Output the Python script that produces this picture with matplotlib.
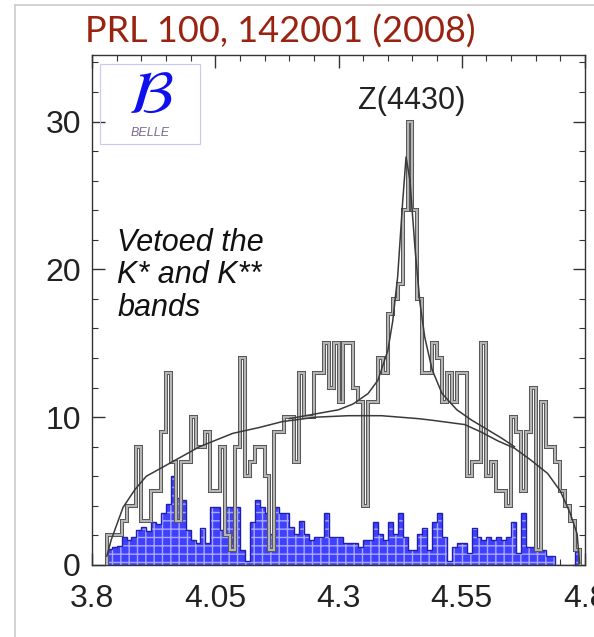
import numpy as np
import matplotlib
matplotlib.use("Agg")
import matplotlib.pyplot as plt
from matplotlib.patches import Rectangle
from matplotlib.lines import Line2D
from matplotlib.ticker import MultipleLocator, FixedLocator

# psi' pi+ mass histogram, 10 MeV bins starting at 3.83 GeV
bin_start = 3.83
bin_width = 0.01
signal_counts = [2, 2, 2, 3, 4, 4, 8, 3, 3, 5, 5, 9, 13, 7, 3, 7, 7, 10, 8, 8,
                 9, 5, 5, 8, 2, 1, 8, 14, 6, 7, 8, 8, 6, 1, 9, 9, 10, 10, 7, 13,
                 10, 10, 13, 13, 15, 12, 15, 11, 15, 15, 12, 11, 4, 11, 11, 14, 13, 17, 18, 19,
                 24, 30, 24, 18, 13, 13, 15, 14, 11, 13, 11, 13, 13, 6, 7, 7, 15, 6, 7, 5,
                 5, 4, 10, 9, 5, 9, 12, 1, 11, 8, 8, 7, 5, 4, 3, 1]
sideband = [1.1, 1.2, 1.3, 1.9, 1.7, 1.9, 2.4, 2.6, 2.3, 2.9, 2.8, 3.5, 4.1, 6.0, 4.5, 4.4, 2.4, 1.7, 1.5, 2.5,
            1.5, 3.9, 3.9, 2.4, 3.9, 3.9, 3.9, 1.0, 0.3, 2.9, 4.4, 3.9, 3.5, 2.1, 3.9, 3.5, 3.5, 2.6, 2.1, 3.0,
            2.1, 1.7, 1.9, 1.9, 3.5, 1.9, 1.9, 1.9, 1.5, 1.5, 1.5, 1.2, 1.7, 1.7, 2.9, 2.1, 1.7, 2.9, 2.1, 3.5,
            1.9, 1.0, 1.0, 2.1, 2.5, 1.0, 2.9, 3.5, 1.9, 0.3, 1.2, 1.5, 1.5, 0.8, 2.5, 1.9, 1.7, 1.9, 1.7, 1.9,
            1.7, 1.9, 2.9, 0.8, 3.5, 1.2, 1.2, 1.1, 1.0, 0.6, 0.6, 0, 0, 0, 0, 1.0]

# fit curves
bkg_x = [3.830, 3.839, 3.863, 3.887, 3.910, 3.964, 4.018, 4.085, 4.139, 4.186, 4.254, 4.320, 4.387,
         4.462, 4.488, 4.556, 4.589, 4.623, 4.657, 4.690, 4.724, 4.750, 4.770, 4.784, 4.789]
bkg_y = [0.6, 1.7, 3.9, 5.1, 6.0, 7.0, 8.0, 8.9, 9.3, 9.7, 10.0, 10.1, 10.1,
         9.9, 9.8, 9.5, 9.0, 8.4, 7.9, 7.1, 6.2, 5.0, 3.5, 2.1, 0.1]
fit_x = [4.200, 4.250, 4.300, 4.330, 4.360, 4.380, 4.400, 4.410, 4.420, 4.430, 4.437, 4.445,
         4.455, 4.465, 4.475, 4.490, 4.510, 4.540, 4.570, 4.600, 4.630, 4.657]
fit_y = [9.9, 10.2, 10.5, 10.9, 11.6, 12.5, 14.5, 16.5, 19.5, 24.5, 27.6, 26.0,
         21.5, 17.8, 15.4, 13.2, 11.6, 10.5, 9.8, 9.2, 8.6, 8.0]

x_ticks = [3.8, 4.05, 4.3, 4.55, 4.8]
x_tick_labels = ["3.8", "4.05", "4.3", "4.55", "4.8"]
y_ticks = [0, 10, 20, 30]

edges = np.round(bin_start + bin_width * np.arange(len(signal_counts) + 1), 3)

fig = plt.figure(figsize=(5.94, 6.37), dpi=100)
ax = fig.add_axes([92 / 594, 1 - 565 / 637, (585 - 92) / 594, (565 - 55) / 637])

# sideband (blue, gridded)
ax.stairs(sideband, edges, fill=True, facecolor="#4040ff", edgecolor="#a8a8ff",
          hatch="++", linewidth=0, zorder=2)
ax.stairs(sideband, edges, color="#2020b0", linewidth=1.0, zorder=3)

# signal region (gray, outlined)
ax.stairs(signal_counts, edges, color="#555555", linewidth=2.9, zorder=4)
ax.stairs(signal_counts, edges, color="#b4b4b4", linewidth=1.5, zorder=5)

ax.plot(bkg_x, bkg_y, color="#3a3a3a", linewidth=1.1, zorder=6)
ax.plot(fit_x, fit_y, color="#3a3a3a", linewidth=1.1, zorder=6)

ax.set_xlim(3.8, 4.8)
ax.set_ylim(0, 34.5)
ax.xaxis.set_major_locator(FixedLocator(x_ticks))
ax.set_xticklabels(x_tick_labels)
ax.xaxis.set_minor_locator(MultipleLocator(0.05))
ax.yaxis.set_major_locator(FixedLocator(y_ticks))
ax.yaxis.set_minor_locator(MultipleLocator(2))
ax.tick_params(which="both", direction="in", top=True, right=True, color="#333333")
ax.tick_params(which="major", length=9, width=1)
ax.tick_params(which="minor", length=4.5, width=0.8)
ax.tick_params(axis="x", which="major", pad=14)
ax.tick_params(axis="y", which="major", pad=8)
for lab in ax.get_xticklabels() + ax.get_yticklabels():
    lab.set_fontfamily("Liberation Sans")
    lab.set_fontsize(23)
    lab.set_color("#222222")
for sp in ax.spines.values():
    sp.set_linewidth(1.0)
    sp.set_color("#333333")

# annotations
ax.text(4.449, 31.4, "Z(4430)", ha="center", va="center", fontsize=22,
        family="Liberation Sans", color="#222222")
for yv, line in zip([21.8, 19.6, 17.4], ["Vetoed the", "K* and K**", "bands"]):
    ax.text(3.851, yv, line, ha="left", va="center", fontsize=22, style="italic",
            family="Liberation Sans", color="#111111")

# Belle logo
ax.add_patch(Rectangle((3.816, 28.5), 0.203, 5.4, fill=False, edgecolor="#c8c8f0",
                       linewidth=0.8, zorder=7))
ax.text(3.918, 31.7, r"$\mathcal{B}$", ha="center", va="center", fontsize=44,
        color="#1010ee", zorder=8)
ax.text(3.918, 29.2, "BELLE", ha="center", va="center", fontsize=9, style="italic",
        family="Liberation Sans", color="#7a6a90", zorder=8)

fig.text(0.471, 0.950, "PRL 100, 142001 (2008)", ha="center", va="center",
         fontsize=26, family="Lato", color="#992211")

# slide frame
fig.add_artist(Line2D([15 / 594, 15 / 594], [0, 1 - 5 / 637], transform=fig.transFigure,
                      color="#cccccc", linewidth=1.2))
fig.add_artist(Line2D([15 / 594, 1], [1 - 5 / 637, 1 - 5 / 637], transform=fig.transFigure,
                      color="#cccccc", linewidth=1.2))

fig.savefig("out.png", dpi=100)
